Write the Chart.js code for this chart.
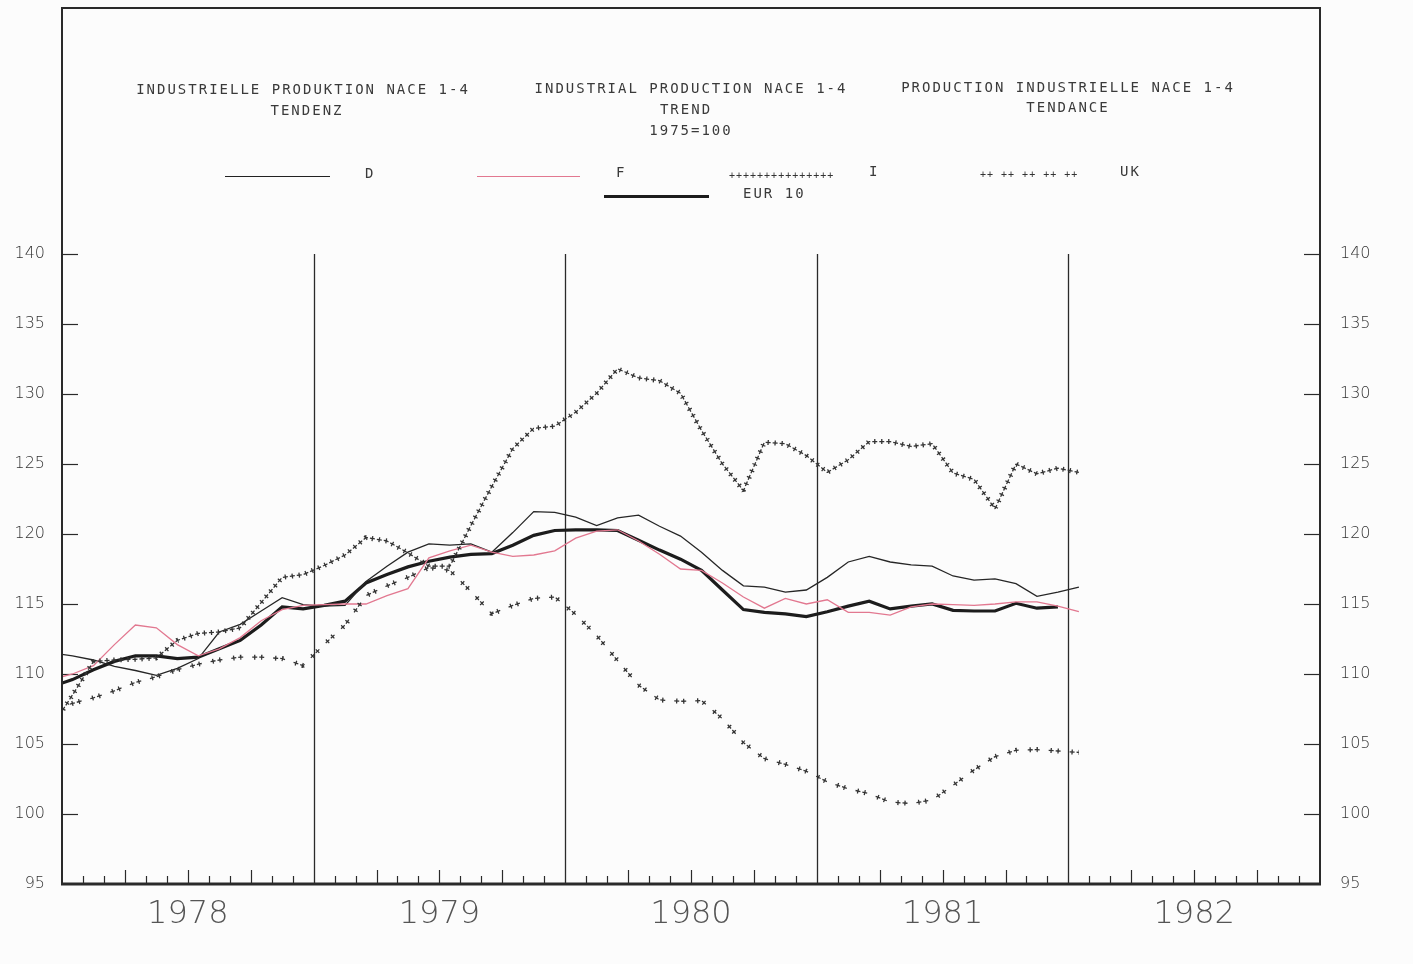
<!DOCTYPE html>
<html><head><meta charset="utf-8">
<script src="https://cdn.jsdelivr.net/npm/chart.js@4.4.1/dist/chart.umd.min.js"></script>
<style>
html,body{margin:0;padding:0;background:#fcfcfc;}
#wrap{position:relative;width:1413px;height:964px;overflow:hidden;}
canvas{position:absolute;left:0;top:0;}
.t{position:absolute;font-family:"DejaVu Sans Mono",monospace;font-size:14px;letter-spacing:2px;color:#3a3a3a;white-space:nowrap;transform:translate(-50%,-50%);line-height:1;}
.l{position:absolute;font-family:"DejaVu Sans Mono",monospace;font-size:14px;letter-spacing:2px;color:#3a3a3a;white-space:nowrap;line-height:1;transform:translateY(-50%);}
.p{position:absolute;font-family:"DejaVu Sans Mono",monospace;font-size:10px;letter-spacing:1px;color:#333;white-space:pre;line-height:1;transform:translateY(-50%);}
.s{position:absolute;height:0;}
</style></head><body>
<div id="wrap">
<canvas id="c" width="1413" height="964"></canvas>
<div class="t" style="left:303px;top:89px">INDUSTRIELLE PRODUKTION NACE 1-4</div>
<div class="t" style="left:307px;top:110px">TENDENZ</div>
<div class="t" style="left:691px;top:88px">INDUSTRIAL PRODUCTION NACE 1-4</div>
<div class="t" style="left:686px;top:109px">TREND</div>
<div class="t" style="left:691px;top:130px">1975=100</div>
<div class="t" style="left:1068px;top:87px">PRODUCTION INDUSTRIELLE NACE 1-4</div>
<div class="t" style="left:1068px;top:107px">TENDANCE</div>

<div class="s" style="left:225px;top:176px;width:105px;border-top:1.3px solid #222"></div>
<div class="l" style="left:365px;top:173px">D</div>
<div class="s" style="left:477px;top:176px;width:103px;border-top:1.3px solid #e27890"></div>
<div class="l" style="left:616px;top:172px">F</div>
<div class="p" style="left:729px;top:176px">+++++++++++++++</div>
<div class="l" style="left:869px;top:171px">I</div>
<div class="p" style="left:980px;top:175px">++ ++ ++ ++ ++</div>
<div class="l" style="left:1120px;top:171px">UK</div>
<div class="s" style="left:604px;top:195px;width:105px;border-top:3px solid #1c1c1c"></div>
<div class="l" style="left:743px;top:193px">EUR 10</div>
</div>
<script>
// ---- data (monthly trend values, 1975=100) ----
const MONTHS = ['1977-12','1978-01','1978-02','1978-03','1978-04','1978-05','1978-06','1978-07','1978-08','1978-09','1978-10','1978-11','1978-12',
 '1979-01','1979-02','1979-03','1979-04','1979-05','1979-06','1979-07','1979-08','1979-09','1979-10','1979-11','1979-12',
 '1980-01','1980-02','1980-03','1980-04','1980-05','1980-06','1980-07','1980-08','1980-09','1980-10','1980-11','1980-12',
 '1981-01','1981-02','1981-03','1981-04','1981-05','1981-06','1981-07','1981-08','1981-09','1981-10','1981-11','1981-12','1982-01'];
const D_VALUES = [111.5,111.3,111.0,110.55,110.25,109.9,110.4,111.1,113.0,113.55,114.5,115.45,114.95,114.85,114.9,116.6,117.7,118.7,119.3,119.2,119.3,118.7,120.1,121.6,121.55,121.2,120.6,121.15,121.35,120.55,119.85,118.7,117.4,116.3,116.2,115.85,116.0,116.9,118.0,118.4,118.0,117.8,117.7,117.0,116.7,116.8,116.45,115.55,115.85,116.2];
const F_VALUES = [109.6,110.0,110.6,112.1,113.5,113.3,112.1,111.3,111.8,112.6,113.8,114.6,114.9,114.95,115.0,115.0,115.6,116.1,118.3,118.8,119.2,118.7,118.4,118.5,118.8,119.7,120.2,120.3,119.5,118.55,117.5,117.4,116.5,115.5,114.7,115.4,115.0,115.3,114.4,114.4,114.2,114.8,115.0,114.95,114.9,115.0,115.15,115.15,114.85,114.45];
const I_VALUES = [106.2,108.5,110.9,111.0,111.05,111.15,112.4,112.9,113.0,113.3,115.1,116.9,117.1,117.75,118.5,119.75,119.5,118.65,117.7,117.7,120.6,123.4,126.1,127.55,127.7,128.7,130.05,131.8,131.15,130.95,130.05,127.4,125.0,123.1,126.55,126.45,125.6,124.4,125.3,126.6,126.6,126.25,126.45,124.35,123.9,121.8,125.0,124.3,124.7,124.4];
const UK_VALUES = [107.5,107.9,108.3,108.8,109.4,109.8,110.3,110.7,111.0,111.2,111.2,111.1,110.6,112.1,113.5,115.6,116.3,116.9,117.6,117.4,115.9,114.3,114.9,115.4,115.5,114.25,112.75,110.95,109.2,108.15,108.05,108.1,106.8,105.1,103.95,103.55,103.05,102.3,101.8,101.45,100.85,100.75,101.0,102.05,103.15,104.1,104.55,104.6,104.5,104.4];
const EUR_VALUES = [109.1,109.6,110.3,110.9,111.3,111.3,111.1,111.2,111.8,112.4,113.5,114.8,114.65,114.9,115.2,116.5,117.1,117.65,118.05,118.35,118.55,118.6,119.2,119.9,120.25,120.3,120.3,120.25,119.55,118.85,118.2,117.4,116.0,114.6,114.4,114.3,114.1,114.45,114.85,115.2,114.65,114.85,115.0,114.55,114.5,114.5,115.05,114.7,114.8,null];
const YEARS = ['1978','1979','1980','1981','1982'];
const Y_TICKS = [95,100,105,110,115,120,125,130,135,140];

// month position on the time axis (months since Jan 1978, plotted mid-month)
const XS = MONTHS.map(s => { const [yy, mm] = s.split('-').map(Number); return (yy - 1978) * 12 + (mm - 1) + 0.5; });
const pts = arr => XS.map((x, i) => ({x, y: arr[i]}));
const yearCentre = y => (Number(y) - 1978) * 12 + 6;
const yearStart = y => (Number(y) - 1978) * 12;

const INK = '#2a2a2a';
const tickFont = {family: '"DejaVu Sans", sans-serif', size: 16, weight: '300'};

const framePlugin = {
  id: 'frame',
  beforeDatasetsDraw(chart) {
    const {ctx, chartArea: a, scales: {x, y}} = chart;
    ctx.save();
    ctx.strokeStyle = INK;
    ctx.lineWidth = 1.3;
    YEARS.slice(1).forEach(yr => {
      const px = Math.round(x.getPixelForValue(yearStart(yr))) + 0.5;
      ctx.beginPath(); ctx.moveTo(px, y.getPixelForValue(140)); ctx.lineTo(px, a.bottom); ctx.stroke();
    });
    ctx.lineWidth = 1.2;
    for (let m = 1; m < 60; m++) {
      if (m % 12 === 0) continue;
      const px = Math.round(x.getPixelForValue(m)) + 0.5;
      const len = m % 3 === 0 ? 14 : 8;
      ctx.beginPath(); ctx.moveTo(px, a.bottom); ctx.lineTo(px, a.bottom - len); ctx.stroke();
    }
    Y_TICKS.forEach(v => {
      if (v === 95) return;
      const py = Math.round(y.getPixelForValue(v)) + 0.5;
      ctx.beginPath(); ctx.moveTo(a.left, py); ctx.lineTo(a.left + 16, py); ctx.stroke();
      ctx.beginPath(); ctx.moveTo(a.right - 16, py); ctx.lineTo(a.right, py); ctx.stroke();
    });
    ctx.restore();
  },
  afterDatasetsDraw(chart) {
    const {ctx, chartArea: a} = chart;
    ctx.save();
    ctx.strokeStyle = INK;
    ctx.lineWidth = 2;
    ctx.beginPath(); ctx.moveTo(a.left, a.bottom); ctx.lineTo(a.left, a.top); ctx.lineTo(a.right, a.top); ctx.lineTo(a.right, a.bottom); ctx.stroke();
    ctx.lineWidth = 3;
    ctx.beginPath(); ctx.moveTo(a.left - 1, a.bottom); ctx.lineTo(a.right + 1, a.bottom); ctx.stroke();
    ctx.restore();
  }
};

function plusSeries(label, values, perpDash, alongDash) {
  return [
    {label, data: pts(values), borderColor: '#333', borderWidth: 5, borderDash: perpDash, borderDashOffset: 0, pointRadius: 0, clip: 0, borderJoinStyle: 'bevel'},
    {label: label + ' ', data: pts(values), borderColor: '#333', borderWidth: 1.3, borderDash: alongDash, borderDashOffset: 1.85, pointRadius: 0, clip: 0, borderJoinStyle: 'bevel'}
  ];
}

const noPad = s => { s.paddingTop = 0; s.paddingBottom = 0; };

new Chart(document.getElementById('c'), {
  type: 'line',
  data: {
    datasets: [
      ...plusSeries('I', I_VALUES, [1.3, 5.7], [5, 2]),
      ...plusSeries('UK', UK_VALUES, [1.3, 5.7, 1.3, 12.7], [5, 2, 5, 9]),
      {label: 'F', data: pts(F_VALUES), borderColor: '#e27890', borderWidth: 1.3, pointRadius: 0, clip: 0},
      {label: 'D', data: pts(D_VALUES), borderColor: '#262626', borderWidth: 1.3, pointRadius: 0, clip: 0},
      {label: 'EUR 10', data: pts(EUR_VALUES), borderColor: '#1c1c1c', borderWidth: 3.2, pointRadius: 0, clip: 0, spanGaps: false}
    ]
  },
  options: {
    responsive: false, animation: false, devicePixelRatio: 1,
    layout: {padding: {top: 8, left: 0, right: 0, bottom: 0}},
    plugins: {legend: {display: false}, tooltip: {enabled: false}, title: {display: false}},
    elements: {line: {tension: 0, fill: false}, point: {radius: 0}},
    scales: {
      x: {
        type: 'linear', min: 0, max: 60,
        afterBuildTicks: s => { s.ticks = YEARS.map(yr => ({value: yearCentre(yr)})); },
        ticks: {autoSkip: false, maxRotation: 0, padding: 11, color: '#555',
          font: {family: '"DejaVu Sans", sans-serif', size: 32, weight: '200'},
          callback: v => YEARS[Math.round((v - 6) / 12)]},
        grid: {display: false, drawTicks: false}, border: {display: false},
        afterFit: s => { s.height = 80; s.paddingLeft = 0; s.paddingRight = 0; }
      },
      y: {
        position: 'left', min: 95, max: 157.57,
        afterBuildTicks: s => { s.ticks = Y_TICKS.map(v => ({value: v})); },
        ticks: {padding: 17, color: '#333', font: tickFont, callback: v => String(v)},
        grid: {display: false, drawTicks: false}, border: {display: false},
        afterFit: s => { s.width = 62; noPad(s); }
      },
      yR: {
        position: 'right', min: 95, max: 157.57,
        afterBuildTicks: s => { s.ticks = Y_TICKS.map(v => ({value: v})); },
        ticks: {padding: 20, color: '#333', font: tickFont, callback: v => String(v)},
        grid: {display: false, drawTicks: false}, border: {display: false},
        afterFit: s => { s.width = 93; noPad(s); }
      }
    }
  },
  plugins: [framePlugin]
});
</script>
</body></html>
